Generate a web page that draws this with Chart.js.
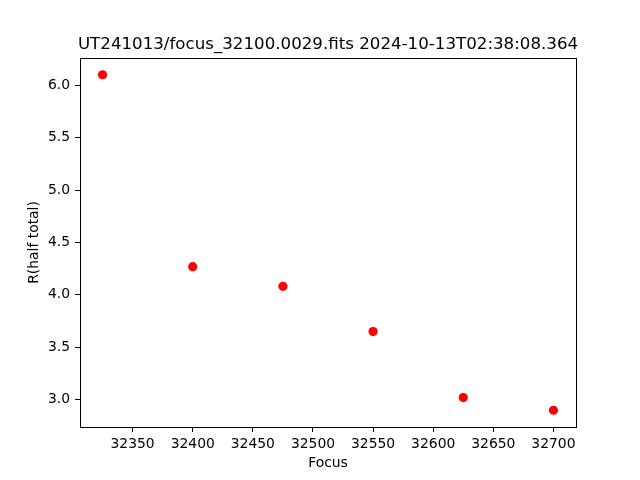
<!DOCTYPE html>
<html>
<head>
<meta charset="utf-8">
<script src="https://cdn.jsdelivr.net/npm/chart.js@4.4.1/dist/chart.umd.min.js"></script>
<style>
  html, body { margin: 0; padding: 0; background: #fff; }
  #wrap { width: 640px; height: 480px; position: relative; }
</style>
</head>
<body>
<div id="wrap"><canvas id="c" width="640" height="480"></canvas></div>
<script>
const titleText = "UT241013/focus_32100.0029.fits 2024-10-13T02:38:08.364";
const focusValues = [32325, 32400, 32475, 32550, 32625, 32700];
const radiusValues = [6.101, 4.269, 4.081, 3.649, 3.019, 2.898];
const xTickValues = [32350, 32400, 32450, 32500, 32550, 32600, 32650, 32700];
const yTickValues = [3.0, 3.5, 4.0, 4.5, 5.0, 5.5, 6.0];
const xLabel = "Focus";
const yLabel = "R(half total)";

const FONT = "'DejaVu Sans', sans-serif";

function margin(arr) {
  const mn = Math.min(...arr), mx = Math.max(...arr);
  const d = (mx - mn) * 0.05;
  return [mn - d, mx + d];
}
const [xMin, xMax] = margin(focusValues);
const [yMin, yMax] = margin(radiusValues);

const framePlugin = {
  id: 'frame',
  afterDraw(chart) {
    const {ctx, chartArea: a} = chart;
    ctx.save();
    ctx.strokeStyle = '#000';
    ctx.lineWidth = 1;
    ctx.strokeRect(Math.round(a.left) + 0.5, Math.round(a.top) + 0.5,
                   Math.round(a.right - a.left), Math.round(a.bottom - a.top));
    ctx.fillStyle = '#000';
    ctx.font = "16.67px " + FONT;
    ctx.textAlign = 'center';
    ctx.textBaseline = 'alphabetic';
    ctx.fillText(titleText, (a.left + a.right) / 2, 49);
    ctx.restore();
  }
};

new Chart(document.getElementById('c'), {
  type: 'scatter',
  data: {
    datasets: [{
      data: focusValues.map((x, i) => ({x: x, y: radiusValues[i]})),
      backgroundColor: '#ff0000',
      borderColor: '#ff0000',
      pointRadius: 4.6,
      pointHoverRadius: 4.6,
      borderWidth: 0
    }]
  },
  options: {
    responsive: false,
    animation: false,
    devicePixelRatio: 1,
    layout: { padding: { left: 0, right: 64, top: 58, bottom: 0 } },
    plugins: { legend: { display: false }, tooltip: { enabled: false }, title: { display: false } },
    scales: {
      x: {
        type: 'linear',
        min: xMin, max: xMax,
        afterBuildTicks: s => { s.ticks = xTickValues.map(v => ({value: v})); },
        afterFit: s => { s.height = 53; },
        ticks: {
          color: '#000', font: { family: FONT, size: 13.9 }, padding: 4,
          maxRotation: 0, autoSkip: false,
          callback: v => String(v)
        },
        grid: { display: true, drawOnChartArea: false, drawTicks: true, tickLength: 5, color: '#000', lineWidth: 1 },
        border: { display: false },
        title: { display: true, text: xLabel, color: '#000', font: { family: FONT, size: 13.9 }, padding: { top: 0, bottom: 8 } }
      },
      y: {
        type: 'linear',
        min: yMin, max: yMax,
        afterBuildTicks: s => { s.ticks = yTickValues.map(v => ({value: v})); },
        afterFit: s => { s.width = 80; },
        ticks: {
          color: '#000', font: { family: FONT, size: 13.9 }, padding: 5,
          autoSkip: false,
          callback: v => Number(v).toFixed(1)
        },
        grid: { display: true, drawOnChartArea: false, drawTicks: true, tickLength: 5, color: '#000', lineWidth: 1 },
        border: { display: false },
        title: { display: true, text: yLabel, color: '#000', font: { family: FONT, size: 13.9 }, padding: { top: 26, bottom: 0 } }
      }
    }
  },
  plugins: [framePlugin]
});
</script>
</body>
</html>
